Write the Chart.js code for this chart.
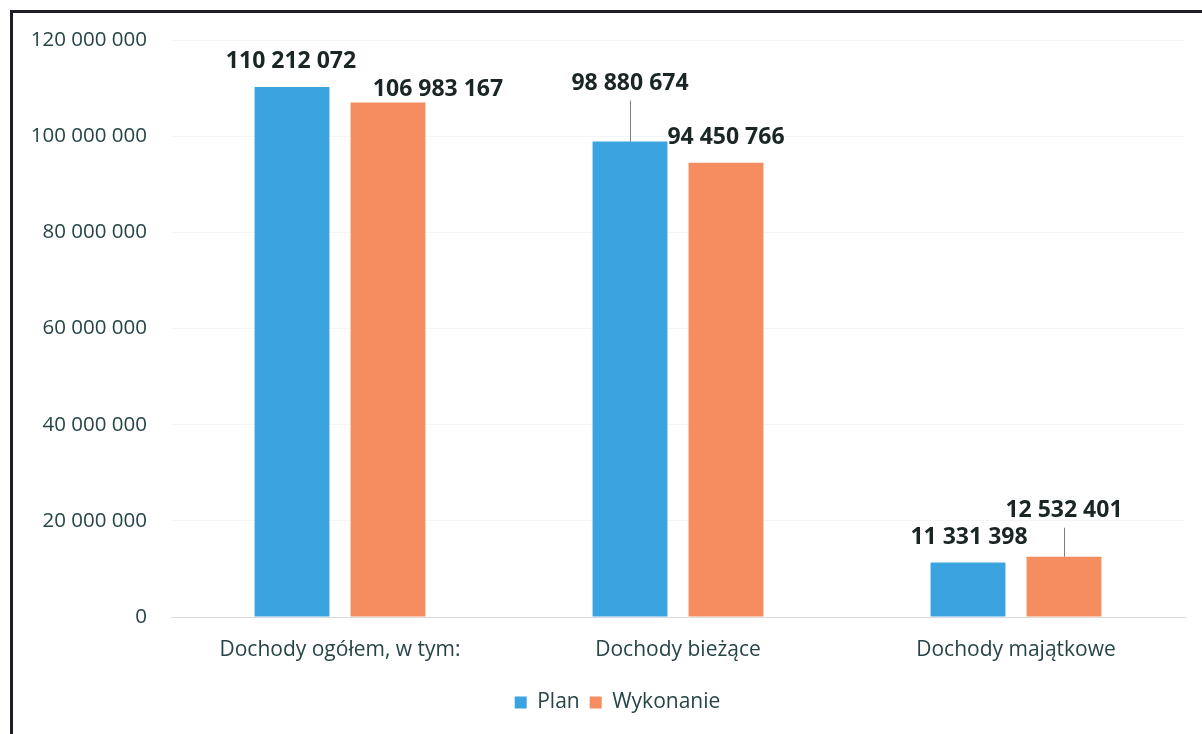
<!DOCTYPE html>
<html lang="pl">
<head>
  <meta charset="UTF-8" />
  <title>Dochody – plan i wykonanie</title>
  <script src="https://cdn.jsdelivr.net/npm/chart.js"></script>
  <style>
    html, body { margin: 0; padding: 0; background: #fff; overflow: hidden; }
    .frame { position: absolute; left: 10px; top: 10px; width: 1200px; height: 730px;
             border-left: 3px solid #1d1d27; border-top: 3px solid #1d1d27; }
    #chart { position: absolute; left: 0; top: 0; }
  </style>
</head>
<body>
  <div class="frame"></div>
  <canvas id="chart" width="1202" height="734"></canvas>

  <script>
    // dane
    const categories = ['Dochody ogółem, w tym:', 'Dochody bieżące', 'Dochody majątkowe'];
    const planValues = [110212072, 98880674, 11331398];
    const wykonanieValues = [106983167, 94450766, 12532401];
    const seriesNames = ['Plan', 'Wykonanie'];
    const yTicks = [0, 20000000, 40000000, 60000000, 80000000, 100000000, 120000000];

    const fmt = v => String(v).replace(/\B(?=(\d{3})+(?!\d))/g, ' ');
    const textColor = '#274548';

    // etykiety wartości nad słupkami: [przesunięcie x, wysokość nad słupkiem, linia odniesienia]
    const valueLabels = {
      id: 'valueLabels',
      afterDatasetsDraw(chart, args, opts) {
        const ctx = chart.ctx;
        ctx.save();
        ctx.font = 'bold 23px "Open Sans"';
        ctx.fillStyle = '#1a2626';
        ctx.textAlign = 'center';
        ctx.textBaseline = 'alphabetic';
        chart.data.datasets.forEach((ds, di) => {
          chart.getDatasetMeta(di).data.forEach((bar, i) => {
            const n = opts.nudge[di][i];
            const y = bar.y - n[1];
            ctx.fillText(fmt(ds.data[i]), bar.x + n[0], y);
            if (n[2]) {
              ctx.strokeStyle = '#7a8080';
              ctx.lineWidth = 1;
              ctx.beginPath();
              ctx.moveTo(Math.round(bar.x) + 0.5, y + 11);
              ctx.lineTo(Math.round(bar.x) + 0.5, bar.y);
              ctx.stroke();
            }
          });
        });
        ctx.restore();
      }
    };

    // legenda w oryginale stoi trochę na prawo od środka
    const legendShift = {
      id: 'legendShift',
      afterLayout(chart) {
        if (chart.legend) { chart.legend.left += 25; chart.legend.right += 25; }
      }
    };

    new Chart(document.getElementById('chart'), {
      type: 'bar',
      data: {
        labels: categories,
        datasets: [
          { label: seriesNames[0], data: planValues, backgroundColor: '#3ba3e0' },
          { label: seriesNames[1], data: wykonanieValues, backgroundColor: '#f68d60' }
        ]
      },
      options: {
        responsive: false,
        animation: false,
        categoryPercentage: 0.568,
        barPercentage: 0.78,
        layout: { padding: { top: 40, right: 17, bottom: 11, left: 0 } },
        scales: {
          x: {
            grid: { display: false },
            border: { color: '#dcdcdc' },
            ticks: { color: textColor, font: { family: 'Open Sans', size: 21 }, padding: 12 },
            afterFit: s => { s.height = 65; }
          },
          y: {
            min: 0,
            max: 120000000,
            afterBuildTicks: s => { s.ticks = yTicks.map(v => ({ value: v })); },
            grid: { color: '#f4f5f5', drawTicks: false },
            border: { display: false },
            ticks: { color: textColor, font: { family: 'Open Sans', size: 20.5 }, padding: 24, callback: v => fmt(v) },
            afterFit: s => { s.width = 171; }
          }
        },
        plugins: {
          legend: {
            position: 'bottom',
            labels: { boxWidth: 12, boxHeight: 12, color: textColor, font: { family: 'Open Sans', size: 21 }, padding: 10 }
          },
          tooltip: { enabled: false },
          valueLabels: {
            nudge: [
              [[-1, 19, 0], [0, 52, 1], [1, 19, 0]],
              [[50, 7, 0], [0, 19, 0], [0, 40, 1]]
            ]
          }
        }
      },
      plugins: [valueLabels, legendShift]
    });
  </script>
</body>
</html>
